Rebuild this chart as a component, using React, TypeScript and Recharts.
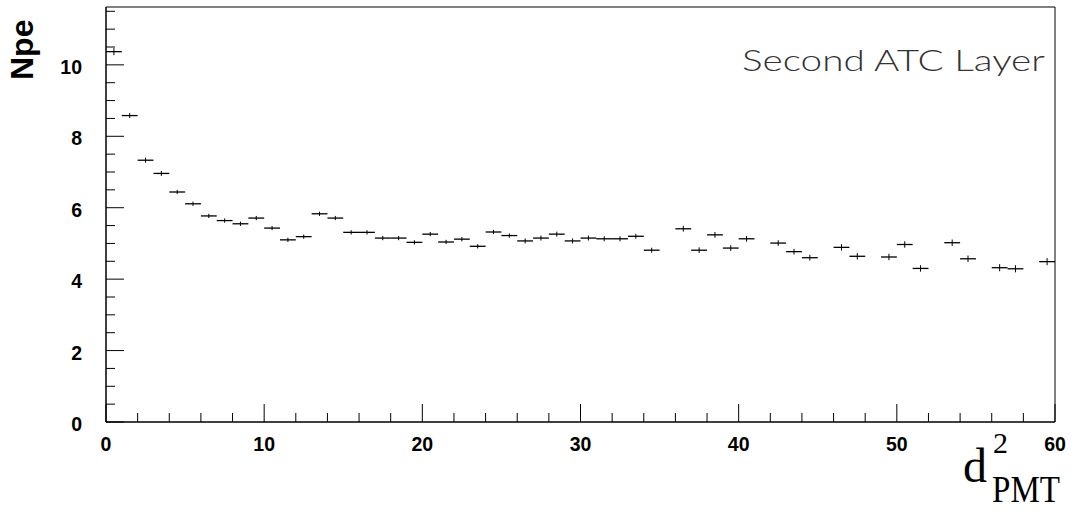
import { ScatterChart, Scatter, XAxis, YAxis, ErrorBar, ReferenceArea } from 'recharts';

// bin centres of d^2_PMT (bins 1 wide, some empty)
const binCenters = [
  0.5, 1.5, 2.5, 3.5, 4.5, 5.5, 6.5, 7.5, 8.5, 9.5,
  10.5, 11.5, 12.5, 13.5, 14.5, 15.5, 16.5, 17.5, 18.5, 19.5,
  20.5, 21.5, 22.5, 23.5, 24.5, 25.5, 26.5, 27.5, 28.5, 29.5,
  30.5, 31.5, 32.5, 33.5, 34.5, 36.5, 37.5, 38.5, 39.5,
  40.5, 42.5, 43.5, 44.5, 46.5, 47.5, 49.5,
  50.5, 51.5, 53.5, 54.5, 56.5, 57.5, 59.5,
];
const npe = [
  10.37, 8.58, 7.33, 6.96, 6.44, 6.11, 5.77, 5.64, 5.55, 5.71,
  5.43, 5.10, 5.19, 5.83, 5.71, 5.31, 5.31, 5.15, 5.15, 5.03,
  5.26, 5.04, 5.12, 4.92, 5.32, 5.22, 5.07, 5.15, 5.26, 5.07,
  5.15, 5.13, 5.13, 5.20, 4.81, 5.41, 4.81, 5.24, 4.87,
  5.13, 5.01, 4.77, 4.60, 4.89, 4.64, 4.62,
  4.97, 4.30, 5.02, 4.57, 4.32, 4.29, 4.49,
];
const npeErr = [
  0.10, 0.07, 0.07, 0.07, 0.06, 0.06, 0.06, 0.06, 0.06, 0.06,
  0.06, 0.06, 0.06, 0.06, 0.06, 0.06, 0.06, 0.06, 0.06, 0.06,
  0.06, 0.06, 0.06, 0.06, 0.06, 0.06, 0.07, 0.07, 0.07, 0.07,
  0.07, 0.07, 0.07, 0.07, 0.07, 0.08, 0.08, 0.08, 0.08,
  0.08, 0.08, 0.08, 0.08, 0.09, 0.09, 0.09,
  0.09, 0.09, 0.09, 0.09, 0.1, 0.1, 0.1,
];

const xTicks = [0, 2, 4, 6, 8, 10, 12, 14, 16, 18, 20, 22, 24, 26, 28, 30, 32, 34, 36, 38, 40, 42, 44, 46, 48, 50, 52, 54, 56, 58, 60];
const xLabels = [0, 10, 20, 30, 40, 50, 60];
const yTicks = [0, 0.5, 1, 1.5, 2, 2.5, 3, 3.5, 4, 4.5, 5, 5.5, 6, 6.5, 7, 7.5, 8, 8.5, 9, 9.5, 10, 10.5, 11, 11.5];
const yLabels = [0, 2, 4, 6, 8, 10];

const points = binCenters.map((x, i) => ({ x, y: npe[i], xe: 0.5, ye: npeErr[i] }));

const labelFont = { fontFamily: '"Liberation Sans", Arial, sans-serif', fontWeight: 700, fontSize: 19.5 };

function XTick({ x, y, payload }: any) {
  const major = xLabels.includes(payload.value);
  return (
    <g>
      <line x1={x} x2={x} y1={y} y2={y - (major ? 18 : 9)} stroke="#000" />
      {major && (
        <text x={x} y={y + 29} textAnchor="middle" fill="#000" style={labelFont}>{payload.value}</text>
      )}
    </g>
  );
}

function YTick({ x, y, payload }: any) {
  const major = yLabels.includes(payload.value);
  return (
    <g>
      <line x1={x} x2={x + (major ? 18 : 9)} y1={y} y2={y} stroke="#000" />
      {major && (
        <text x={x - 24} y={y + 9} textAnchor="end" fill="#000" style={labelFont}>{payload.value}</text>
      )}
    </g>
  );
}

const noDot = () => <g />;

export default function App() {
  return (
    <div style={{ position: 'absolute', left: 0, top: 0, width: 1071, height: 510, background: '#fff' }}>
      <ScatterChart width={1071} height={510} margin={{ top: 7, right: 16, bottom: 48, left: 46 }}>
        <XAxis
          type="number"
          dataKey="x"
          domain={[0, 60]}
          ticks={xTicks}
          interval={0}
          height={40}
          tickSize={0}
          tickMargin={0}
          tickLine={false}
          axisLine={{ stroke: '#000' }}
          tick={<XTick />}
          allowDataOverflow
        />
        <YAxis
          type="number"
          dataKey="y"
          domain={[0, 11.62]}
          ticks={yTicks}
          interval={0}
          width={60}
          tickSize={0}
          tickMargin={0}
          tickLine={false}
          axisLine={{ stroke: '#000' }}
          tick={<YTick />}
          allowDataOverflow
        />
        <ReferenceArea x1={0} x2={60} y1={0} y2={11.62} fill="none" stroke="#000" strokeWidth={1} />
        <Scatter data={points} shape={noDot} isAnimationActive={false}>
          <ErrorBar dataKey="xe" direction="x" width={0} stroke="#000" strokeWidth={1.3} isAnimationActive={false} />
          <ErrorBar dataKey="ye" direction="y" width={0} stroke="#000" strokeWidth={1} isAnimationActive={false} />
        </Scatter>
      </ScatterChart>
      <svg width={1071} height={510} style={{ position: 'absolute', left: 0, top: 0, pointerEvents: 'none' }}>
        <text
          x={33}
          y={80}
          transform="rotate(-90 33 80)"
          fill="#000"
          style={{ fontFamily: '"Liberation Sans", Arial, sans-serif', fontWeight: 700, fontSize: 32 }}
        >
          Npe
        </text>
        <text
          x={1045}
          y={71}
          textAnchor="end"
          textLength={303}
          lengthAdjust="spacingAndGlyphs"
          fill="#333"
          style={{ fontFamily: 'Lato, "Open Sans", sans-serif', fontWeight: 300, fontSize: 29 }}
        >
          Second ATC Layer
        </text>
        <g fill="#000" style={{ fontFamily: '"Liberation Serif", "Times New Roman", serif' }}>
          <text x={963} y={482} fontSize={48}>d</text>
          <text x={993} y={453} fontSize={30}>2</text>
          <text x={992} y={502} fontSize={38} textLength={68} lengthAdjust="spacingAndGlyphs">PMT</text>
        </g>
      </svg>
    </div>
  );
}
